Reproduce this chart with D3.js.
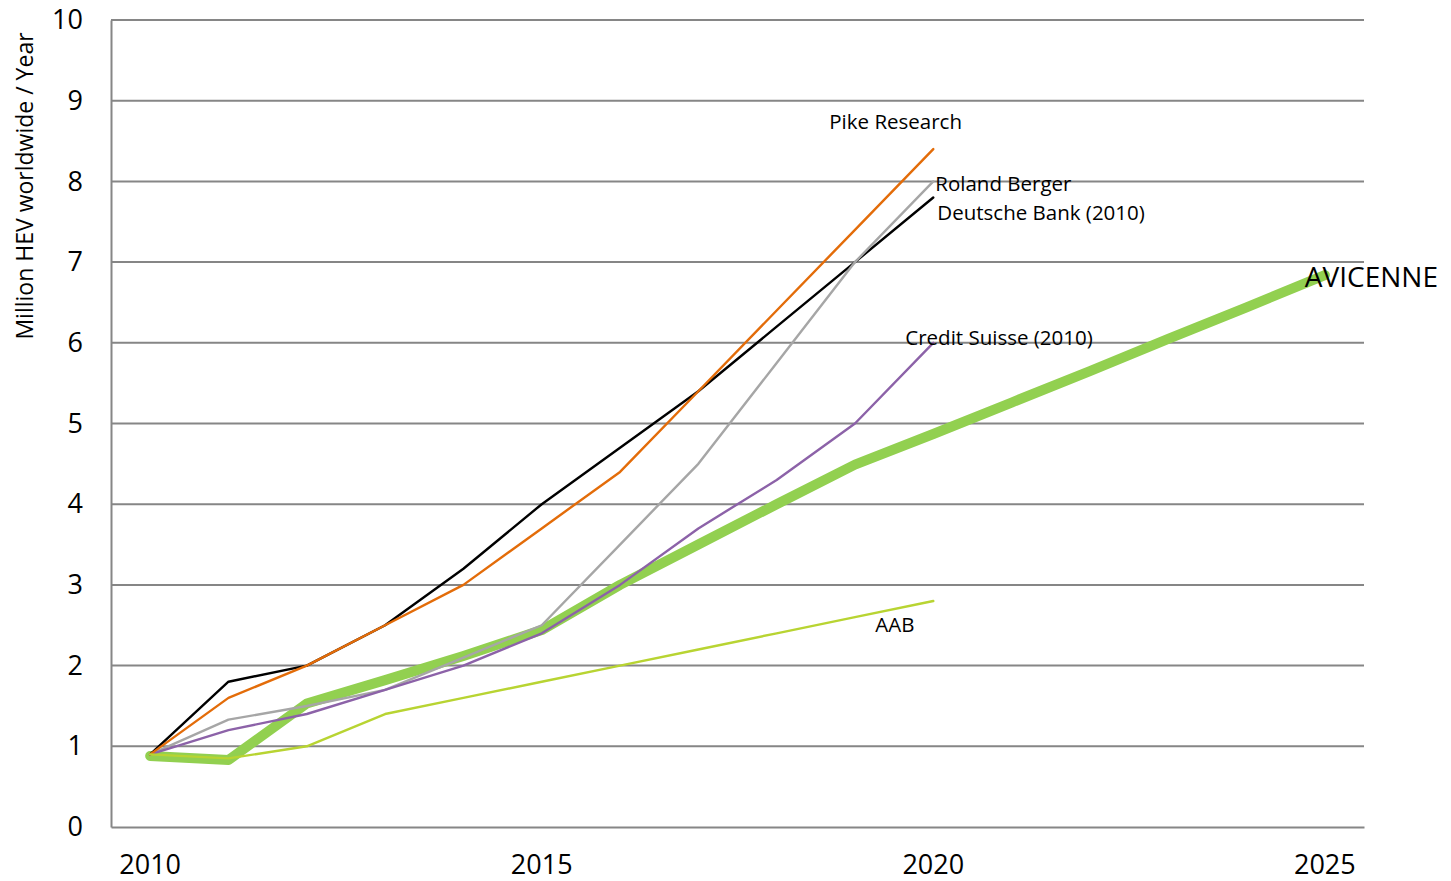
<!DOCTYPE html>
<html><head><meta charset="utf-8">
<script src="https://cdn.jsdelivr.net/npm/d3@7/dist/d3.min.js"></script>
<style>body{margin:0;background:#fff}svg{display:block}text{font-family:"Open Sans",sans-serif}</style>
</head><body><svg id="c" width="1451" height="881"></svg>
<script>
const years = d3.range(2010, 2026);
const yTicks = [0,1,2,3,4,5,6,7,8,9,10];
const xTickLabels = [2010, 2015, 2020, 2025];
const pikeResearch   = [0.9,1.6,2.0,2.5,3.0,3.7,4.4,5.4,6.4,7.4,8.4];
const deutscheBank   = [0.9,1.8,2.0,2.5,3.2,4.0,4.7,5.4,6.2,7.0,7.8];
const rolandBerger   = [0.9,1.33,1.5,1.7,2.1,2.5,3.5,4.5,5.75,7.0,8.0];
const creditSuisse   = [0.9,1.2,1.4,1.7,2.0,2.4,3.0,3.7,4.3,5.0,6.0];
const aab            = [0.9,0.85,1.0,1.4,1.6,1.8,2.0,2.2,2.4,2.6,2.8];
const avicenne       = [0.88,0.83,1.53,1.82,2.12,2.44,3.0,3.5,4.0,4.49,4.87,5.26,5.65,6.05,6.44,6.84];
const seriesNames = ["AVICENNE","Deutsche Bank (2010)","Roland Berger","Credit Suisse (2010)","Pike Research","AAB"];

const series = [
  {name:seriesNames[0], values:avicenne, color:"#92D050", width:10},
  {name:seriesNames[1], values:deutscheBank, color:"#000000", width:2.4},
  {name:seriesNames[2], values:rolandBerger, color:"#A6A6A6", width:2.4},
  {name:seriesNames[3], values:creditSuisse, color:"#8C62A8", width:2.4},
  {name:seriesNames[4], values:pikeResearch, color:"#E36C09", width:2.4},
  {name:seriesNames[5], values:aab, color:"#B8D432", width:2.4}
];

const svg = d3.select("#c");
const L=111, R=1364, T=20, B=827;
const x = d3.scaleBand().domain(years).range([L,R]);
const xc = v => x(v) + x.bandwidth()/2;
const y = d3.scaleLinear().domain([0,10]).range([B,T]);

// gridlines
svg.append("g").selectAll("line").data(yTicks.filter(d=>d>0)).join("line")
  .attr("x1",L).attr("x2",R).attr("y1",d=>y(d)).attr("y2",d=>y(d))
  .attr("stroke","#868686").attr("stroke-width",2);

// axes
const yAxis = svg.append("g").attr("transform",`translate(${L},0)`)
  .call(d3.axisLeft(y).tickValues(yTicks).tickSize(0).tickPadding(28).tickFormat(d3.format("d")));
yAxis.select(".domain").attr("stroke","#868686").attr("stroke-width",2);
yAxis.selectAll("text").attr("font-size",27).attr("fill","#000").attr("font-family","Open Sans");

const xAxis = svg.append("g").attr("transform",`translate(0,${B})`)
  .call(d3.axisBottom(x).tickValues(xTickLabels).tickSize(0).tickPadding(28).tickFormat(d3.format("d")));
xAxis.select(".domain").attr("stroke","#868686").attr("stroke-width",2);
xAxis.selectAll("text").attr("font-size",27).attr("fill","#000").attr("font-family","Open Sans");

// y title
svg.append("text").attr("transform","translate(33,186) rotate(-90)")
  .attr("text-anchor","middle").attr("font-size",23).attr("fill","#000")
  .text("Million HEV worldwide / Year");

// lines
const line = d3.line().x((d,i)=>xc(years[i])).y(d=>y(d)).curve(d3.curveLinear);
svg.append("g").selectAll("path").data(series).join("path")
  .attr("d",d=>line(d.values)).attr("fill","none")
  .attr("stroke",d=>d.color).attr("stroke-width",d=>d.width)
  .attr("stroke-linejoin","round").attr("stroke-linecap","round");

// labels
const labels = [
  {text:"Pike Research", x:xc(2020)-104, y:y(8.4)-20, size:20.5},
  {text:"Roland Berger", x:xc(2020)+2, y:y(8.0)+10, size:20.5},
  {text:"Deutsche Bank (2010)", x:xc(2020)+4, y:y(7.8)+22, size:20.5},
  {text:"Credit Suisse (2010)", x:xc(2020)-28, y:y(6.0)+2, size:20.5},
  {text:"AAB", x:xc(2020)-58, y:y(2.8)+31, size:20.5},
  {text:"AVICENNE", x:xc(2025)-20, y:y(6.84)+12, size:28}
];
svg.append("g").selectAll("text").data(labels).join("text")
  .attr("x",d=>d.x).attr("y",d=>d.y).attr("font-size",d=>d.size).attr("fill","#000")
  .text(d=>d.text);
</script></body></html>
